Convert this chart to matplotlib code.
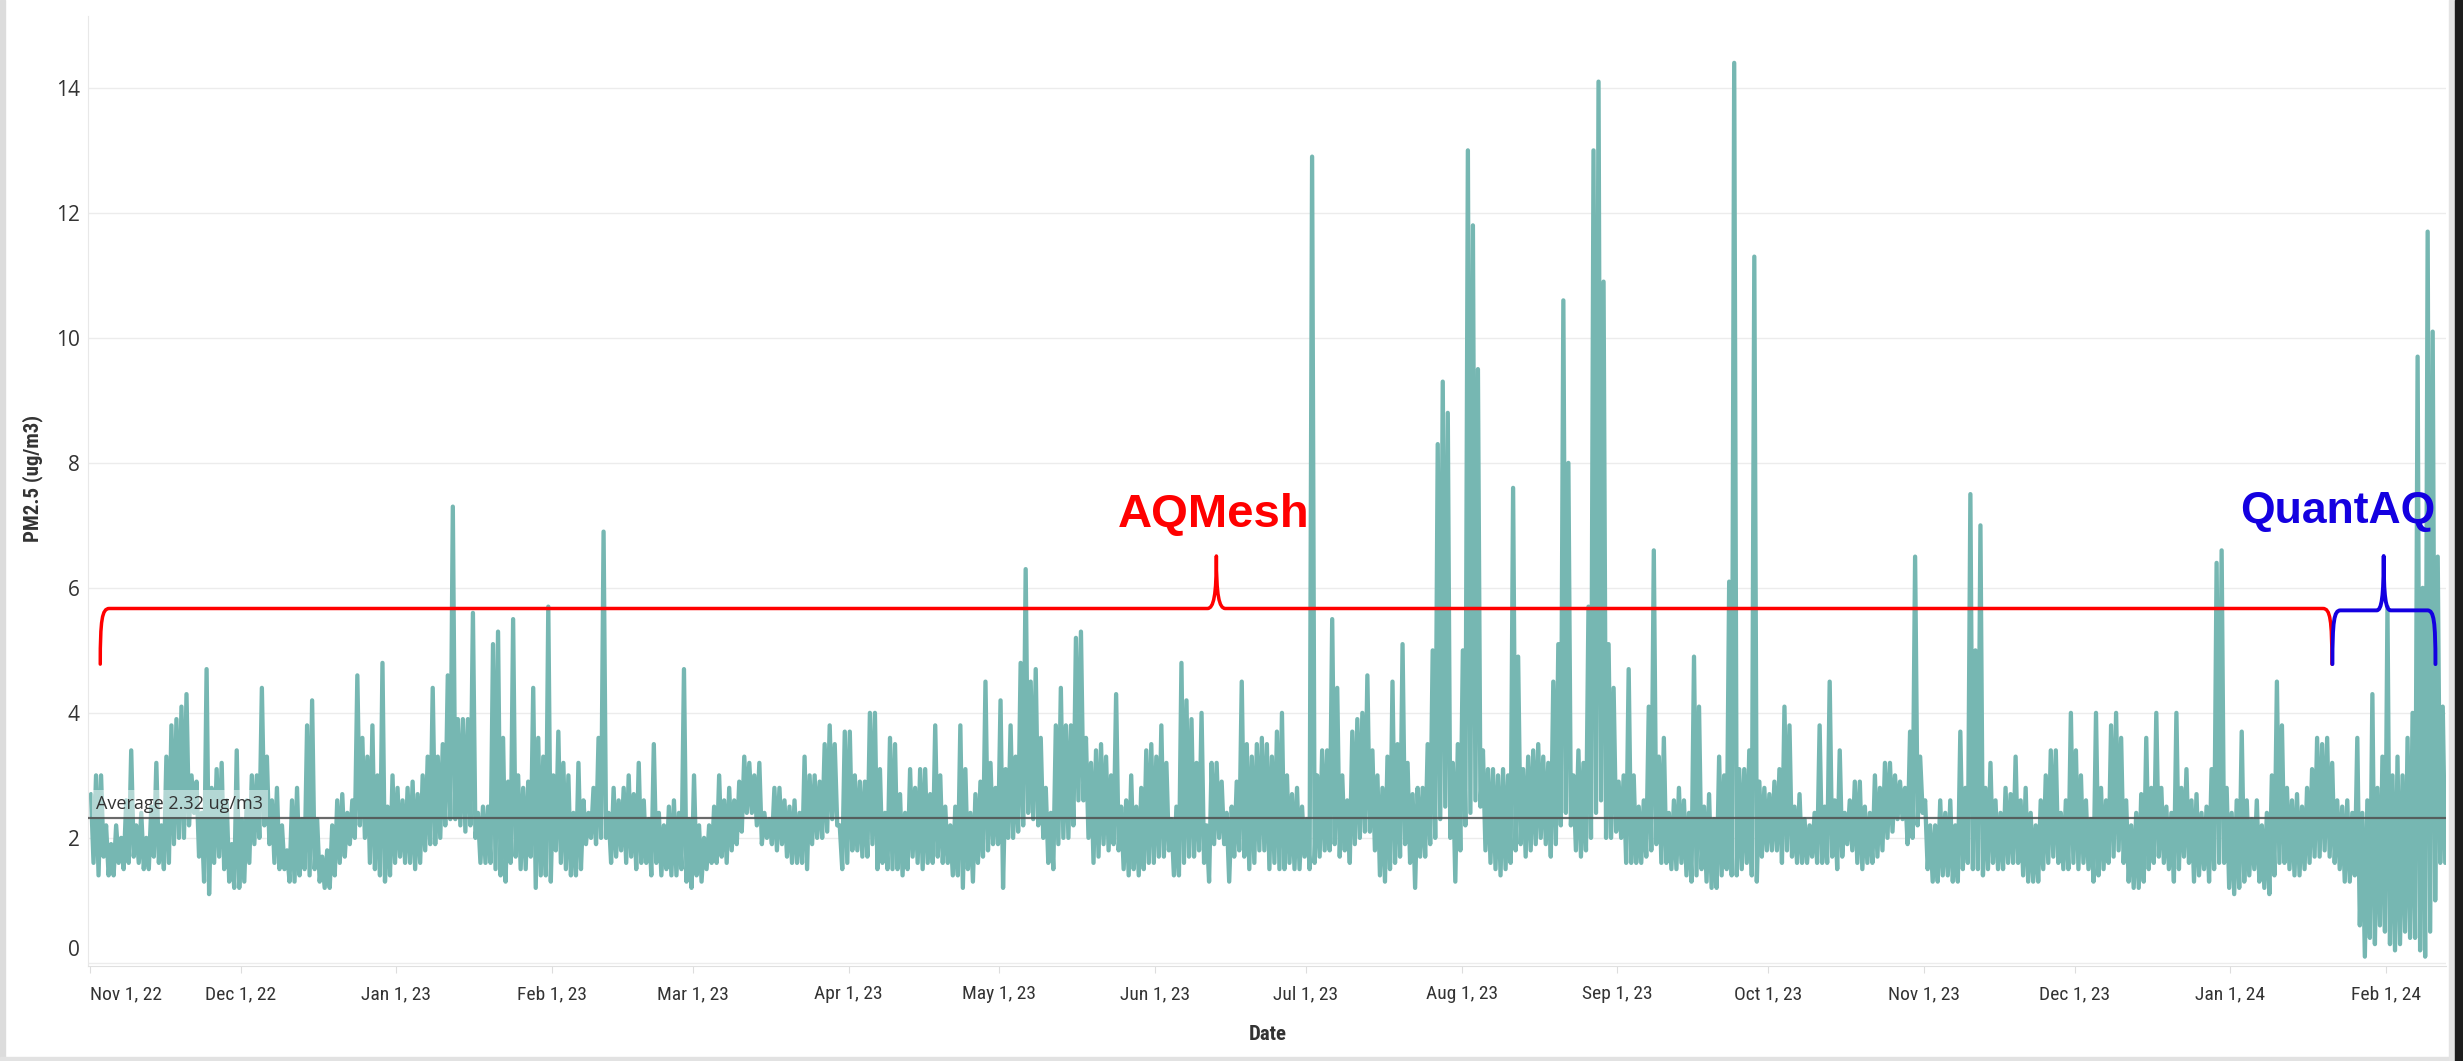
import matplotlib
matplotlib.use("Agg")
import matplotlib.pyplot as plt
import matplotlib.dates as mdates
import matplotlib.transforms as mtransforms
from matplotlib.path import Path
from matplotlib.patches import PathPatch, Rectangle
import numpy as np
import pandas as pd

# daily low / high of the hourly PM2.5 readings (ug/m3)
# Nov 1 2022 .. Jan 17 2023
lo_nov_jan = [1.6,1.4,1.7,1.4,1.4,1.6,1.5,1.6,1.7,1.6,
              1.5,1.5,1.7,1.6,1.5,1.6,1.9,2.0,2.0,2.2,
              2.4,1.7,1.3,1.1,1.6,1.7,1.5,1.3,1.2,1.2,
              1.3,1.6,1.9,2.0,2.2,1.9,1.6,1.5,1.5,1.3,
              1.3,1.4,1.5,1.4,1.5,1.3,1.2,1.2,1.4,1.6,
              1.7,1.9,2.0,2.2,2.0,1.6,1.5,1.4,1.3,1.4,
              1.6,1.7,1.6,1.6,1.5,1.6,1.8,1.9,1.9,2.0,
              2.2,2.3,2.3,2.2,2.1,2.2,2.0,1.6]
hi_nov_jan = [2.7,3.0,3.0,2.2,1.9,2.2,2.0,2.6,3.4,2.2,
              2.4,2.0,2.5,3.2,2.2,3.3,3.8,3.9,4.1,4.3,
              3.0,2.9,2.4,4.7,2.8,3.1,3.2,2.6,1.9,3.4,
              2.3,2.6,3.0,3.0,4.4,3.3,2.6,2.8,2.2,1.8,
              2.6,2.8,2.3,3.8,4.2,2.3,1.7,1.8,2.2,2.6,
              2.7,2.4,2.6,4.6,3.6,3.3,3.8,3.0,4.8,2.5,
              3.0,2.8,2.6,2.8,2.9,2.7,3.0,3.3,4.4,3.3,
              3.5,4.6,7.3,3.9,3.9,3.9,5.6,2.4]
# Jan 18 .. Apr 5 2023
lo_jan_apr = [1.6,1.6,1.5,1.4,1.3,1.6,1.7,1.5,1.5,1.7,
              1.2,1.4,1.4,1.3,1.8,1.6,1.5,1.4,1.4,1.5,
              1.9,2.0,1.9,2.0,2.0,1.6,1.7,1.8,1.6,1.7,
              1.5,1.6,1.6,1.4,1.6,1.4,1.5,1.4,1.4,1.5,
              1.3,1.2,1.4,1.3,1.5,1.6,1.6,1.7,1.6,1.8,
              1.9,2.1,2.4,2.4,2.2,1.9,2.0,1.9,1.8,1.9,
              1.7,1.6,1.6,1.6,1.5,1.9,2.0,2.0,2.1,2.3,
              2.2,1.5,1.6,1.8,1.8,1.7,1.7,1.9]
hi_jan_apr = [2.5,2.5,5.1,5.3,3.6,2.9,5.5,3.0,2.8,2.9,
              4.4,3.6,3.3,5.7,3.0,3.7,3.2,3.0,2.4,3.2,
              2.6,2.4,2.8,3.6,6.9,2.4,2.8,2.6,2.8,3.0,
              2.7,3.2,2.6,2.3,3.5,2.4,2.2,2.5,2.6,2.4,
              4.7,2.3,3.0,2.2,2.0,2.2,2.5,3.0,2.6,2.8,
              2.6,2.9,3.3,3.2,3.0,3.2,2.4,2.3,2.8,2.8,
              2.6,2.5,2.6,2.4,3.3,3.0,3.0,2.9,3.5,3.8,
              3.5,2.2,3.7,3.7,3.0,2.9,2.9,4.0]
# Apr 6 .. Jun 22 2023
lo_apr_jun = [1.5,1.6,1.5,1.5,1.5,1.4,1.5,1.7,1.6,1.5,
              1.6,1.6,1.7,1.6,1.6,1.4,1.4,1.2,1.5,1.3,
              1.6,1.7,1.8,1.9,1.9,1.2,2.0,2.0,2.1,2.2,
              2.4,2.3,2.2,2.0,1.6,1.5,1.9,2.0,2.0,2.2,
              2.6,2.6,2.0,1.6,1.7,1.9,1.8,1.9,1.8,1.5,
              1.4,1.5,1.4,1.5,1.6,1.6,1.7,1.7,1.8,1.4,
              1.4,1.6,1.7,1.7,1.8,1.6,1.3,1.9,2.0,1.9,
              1.3,1.7,1.8,1.7,1.5,1.6,1.8,1.8]
hi_apr_jun = [4.0,3.1,2.4,3.6,3.5,2.7,2.4,3.1,2.8,3.1,
              3.1,2.7,3.8,3.0,2.5,2.2,2.5,3.8,3.1,2.4,
              2.7,2.9,4.5,3.2,2.8,4.2,3.1,3.8,3.3,4.8,
              6.3,4.5,4.7,3.6,2.8,2.4,3.8,4.4,3.8,3.8,
              5.2,5.3,3.6,3.2,3.4,3.5,3.3,3.0,4.3,2.5,
              2.6,3.0,2.5,2.8,3.4,3.5,3.3,3.8,3.2,2.3,
              2.5,4.8,4.2,3.9,3.2,4.0,2.2,3.2,3.2,2.9,
              2.4,2.5,2.9,4.5,3.5,3.3,3.5,3.6]
# Jun 23 .. Sep 8 2023
lo_jun_sep = [1.5,1.6,1.5,1.5,1.6,1.5,1.5,1.7,1.5,1.6,
              1.7,1.8,1.8,1.9,1.7,1.8,1.6,1.9,2.0,2.1,
              2.1,1.8,1.4,1.3,1.5,1.6,1.7,1.9,1.6,1.2,
              1.7,1.7,1.9,2.0,2.3,2.5,2.0,1.3,1.8,2.2,
              2.4,2.6,2.5,1.8,1.6,1.5,1.4,1.5,1.6,1.8,
              1.9,1.7,1.8,1.9,2.0,1.9,1.7,1.9,2.2,2.4,
              2.2,1.8,1.7,1.8,2.0,2.4,2.6,2.0,2.0,2.1,
              2.0,1.6,1.6,1.6,1.6,1.7,1.8,1.9]
hi_jun_sep = [3.5,3.3,3.7,4.0,3.0,2.7,2.8,2.5,2.3,12.9,
              3.0,3.4,3.4,5.5,4.4,3.0,2.6,3.7,3.9,4.0,
              4.6,3.4,3.0,2.8,3.3,4.5,3.5,5.1,3.2,2.7,
              2.8,2.8,3.5,5.0,8.3,9.3,8.8,3.2,3.5,5.0,
              13.0,11.8,9.5,3.4,3.1,3.1,3.0,3.1,3.0,7.6,
              4.9,3.1,3.3,3.4,3.5,3.3,3.2,4.5,5.1,10.6,
              8.0,3.0,3.4,3.2,5.7,13.0,14.1,10.9,5.1,4.4,
              2.9,3.0,4.7,3.0,2.5,2.6,4.1,6.6]
# Sep 9 .. Nov 26 2023
lo_sep_nov = [1.6,1.6,1.5,1.5,1.6,1.4,1.3,1.4,1.5,1.3,
              1.2,1.2,1.4,1.5,1.4,1.4,1.5,1.6,1.4,1.3,
              1.7,1.8,1.8,1.8,1.6,1.8,1.7,1.6,1.6,1.6,
              1.7,1.6,1.6,1.6,1.7,1.5,1.7,1.9,1.8,1.6,
              1.5,1.6,1.6,1.7,1.8,2.0,2.1,2.3,2.3,1.9,
              2.0,2.2,2.4,1.5,1.3,1.3,1.4,1.4,1.3,1.3,
              1.5,1.6,1.5,1.5,1.4,1.5,1.6,1.5,1.5,1.6,
              1.6,1.6,1.4,1.3,1.3,1.3,1.5,1.6,1.7]
hi_sep_nov = [3.3,3.6,2.4,2.6,2.8,2.6,2.4,4.9,4.1,2.5,
              2.7,2.3,3.3,3.0,6.1,14.4,3.1,3.1,3.4,11.3,
              2.9,2.8,2.7,2.9,3.1,4.1,3.8,2.5,2.7,2.3,
              2.2,2.4,3.8,2.5,4.5,2.6,3.4,2.4,2.6,2.9,
              2.9,2.5,2.4,3.0,2.8,3.2,3.2,3.0,2.9,2.8,
              3.7,6.5,3.3,2.6,2.2,2.2,2.6,2.4,2.6,2.2,
              3.7,2.8,7.5,5.0,7.0,2.8,3.2,2.6,2.4,2.8,
              2.7,3.3,2.6,2.8,2.4,2.2,2.6,3.0,3.4]
# Nov 27 2023 .. Feb 12 2024
lo_nov_feb = [1.6,1.5,1.5,1.6,1.5,1.6,1.5,1.3,1.4,1.5,
              1.6,1.7,1.8,1.6,1.3,1.2,1.2,1.3,1.5,1.6,
              1.7,1.6,1.5,1.3,1.5,1.7,1.6,1.3,1.4,1.5,
              1.3,1.5,1.6,1.6,1.2,1.1,1.2,1.3,1.4,1.5,
              1.3,1.2,1.1,1.4,1.6,1.6,1.5,1.4,1.4,1.5,
              1.6,1.7,1.7,1.8,1.7,1.6,1.5,1.3,1.3,1.4,
              0.6,0.1,0.4,0.3,0.6,0.5,0.3,0.2,0.3,0.5,
              0.4,0.4,0.2,0.1,0.5,1.0,1.6,1.6]
hi_nov_feb = [3.4,2.4,2.6,4.0,3.4,3.0,2.6,2.3,4.0,2.8,
              2.6,3.8,4.0,3.6,2.6,2.2,2.4,2.7,3.6,2.8,
              4.0,2.8,2.5,2.4,4.0,2.8,3.1,2.6,2.7,2.4,
              2.5,3.1,6.4,6.6,2.8,2.4,2.6,3.7,2.6,2.3,
              2.6,2.2,2.4,3.0,4.5,3.8,2.8,2.6,2.7,2.5,
              2.8,3.1,3.6,3.5,3.6,3.2,2.6,2.5,2.6,2.4,
              3.6,2.4,2.6,4.3,2.8,3.3,5.7,3.0,3.3,3.0,
              3.6,4.0,9.7,6.0,11.7,10.1,6.5,4.1]

average = 2.32
start = pd.Timestamp("2022-11-01")
month_ticks = pd.date_range("2022-11-01", "2024-02-01", freq="MS")

lo = np.array(lo_nov_jan + lo_jan_apr + lo_apr_jun + lo_jun_sep + lo_sep_nov + lo_nov_feb)
hi = np.array(hi_nov_jan + hi_jan_apr + hi_apr_jun + hi_jun_sep + hi_sep_nov + hi_nov_feb)
day = np.arange(len(lo))

# zig-zag between the daily high and low, like the hourly trace
t = np.column_stack([day + 0.25, day + 0.75]).ravel()
v = np.column_stack([hi, lo]).ravel()
x0 = mdates.date2num(start)
tx = x0 + t

narrow = ["Liberation Sans Narrow", "Roboto Condensed", "DejaVu Sans"]

W, H = 2463, 1061
fig = plt.figure(figsize=(W / 100, H / 100), dpi=100)
ax = fig.add_axes([88 / W, 1 - 966 / H, (2446 - 88) / W, (966 - 16) / H])

ax.plot(tx, v, color="#76b7b2", lw=3.1, solid_joinstyle="round",
        solid_capstyle="round", zorder=2)

ax.axhline(average, color="#505050", lw=1.6, alpha=0.85, zorder=3)
ax.text(x0 + 1.3, average + 0.08, "Average 2.32 ug/m3", fontsize=13,
        family=["Open Sans", "DejaVu Sans"], color="#333333", va="bottom", ha="left",
        bbox=dict(boxstyle="square,pad=0.25", facecolor="white", alpha=0.45,
                  edgecolor="none"), zorder=4)

ax.set_xlim(x0 - 0.35, x0 + 468.9)
ax.set_ylim(-0.05, 15.15)

ax.set_xticks(mdates.date2num(month_ticks))
ax.set_xticklabels([f"{d:%b} {d.day}, {d:%y}" for d in month_ticks],
                   family=narrow, stretch="condensed", fontsize=14, color="#333333")
ax.get_xticklabels()[0].set_ha("left")
ax.tick_params(axis="x", length=5, color="#dddddd", pad=9)

yt = np.arange(0, 15, 2)
ax.set_yticks(yt)
ax.set_yticklabels([str(v_) for v_ in yt], family=["Open Sans", "DejaVu Sans"],
                   fontsize=15, color="#333333")
ax.tick_params(axis="y", length=0, pad=6)
lab0 = ax.get_yticklabels()[0]
lab0.set_transform(lab0.get_transform() +
                   mtransforms.ScaledTranslation(0, 0.15, fig.dpi_scale_trans))

ax.yaxis.grid(True, color="#ececec", lw=1)
ax.set_axisbelow(True)
for s in ["top", "right"]:
    ax.spines[s].set_visible(False)
ax.spines["left"].set_color("#e8e8e8")
ax.spines["bottom"].set_color("#e0e0e0")

fig.text(33 / W, 1 - 478 / H, "PM2.5 (ug/m3)", rotation=90, ha="center", va="center",
         fontsize=15, fontweight="bold", family=narrow, stretch="condensed",
         color="#333333")
fig.text(1268 / W, 1 - 1034 / H, "Date", ha="center", va="center", fontsize=15,
         fontweight="bold", family=narrow, stretch="condensed", color="#333333")


def brace(xa, xb, xm, ybar, ytip, yend, cw, hw, color, lw):
    # curly brace in data units, cw / hw are given in pixels
    cw = cw / 5.026
    hw = hw / 5.026
    dv = ybar - yend
    dt = ytip - ybar
    verts = [(xa, yend), (xa, ybar - 0.2 * dv), (xa + 0.2 * cw, ybar), (xa + cw, ybar),
             (xm - hw, ybar),
             (xm - 0.3 * hw, ybar), (xm, ybar + 0.25 * dt), (xm, ytip),
             (xm, ybar + 0.25 * dt), (xm + 0.3 * hw, ybar), (xm + hw, ybar),
             (xb - cw, ybar),
             (xb - 0.2 * cw, ybar), (xb, ybar - 0.2 * dv), (xb, yend)]
    codes = [Path.MOVETO, Path.CURVE4, Path.CURVE4, Path.CURVE4, Path.LINETO,
             Path.CURVE4, Path.CURVE4, Path.CURVE4, Path.CURVE4, Path.CURVE4, Path.CURVE4,
             Path.LINETO, Path.CURVE4, Path.CURVE4, Path.CURVE4]
    verts = [(x0 + a, b) for a, b in verts]
    ax.add_patch(PathPatch(Path(verts, codes), fill=False, edgecolor=color, lw=lw,
                           capstyle="round", joinstyle="round", zorder=5, clip_on=False))


brace(2.09, 446.2, 224.2, 5.67, 6.51, 4.78, 9, 9, "#ff0000", 2.5)
brace(446.3, 466.8, 456.5, 5.64, 6.51, 4.78, 8, 7, "#1400e0", 2.8)

ax.text(x0 + 223.6, 7.17, "AQMesh", color="#ff0000", fontsize=34, fontweight="bold",
        family=["Liberation Sans", "DejaVu Sans"], ha="center", va="center", zorder=6)
ax.text(x0 + 447.4, 7.23, "QuantAQ", color="#1400e0", fontsize=32, fontweight="bold",
        family=["Liberation Sans", "DejaVu Sans"], ha="center", va="center", zorder=6,
        clip_on=False)

# window frame around the view
fig.patches.append(Rectangle((0, 0), 5 / W, 1, transform=fig.transFigure,
                             color="#dcdcdc", zorder=0))
fig.patches.append(Rectangle((0, 0), 1, 4 / H, transform=fig.transFigure,
                             color="#e2e2e2", zorder=0))
fig.patches.append(Rectangle((2449 / W, 0), 6 / W, 1, transform=fig.transFigure,
                             color="#e4e4e4", zorder=0))
fig.patches.append(Rectangle((2455 / W, 0), 8 / W, 1, transform=fig.transFigure,
                             color="#1c1c1c", zorder=0))

fig.savefig("out.png", dpi=100)
